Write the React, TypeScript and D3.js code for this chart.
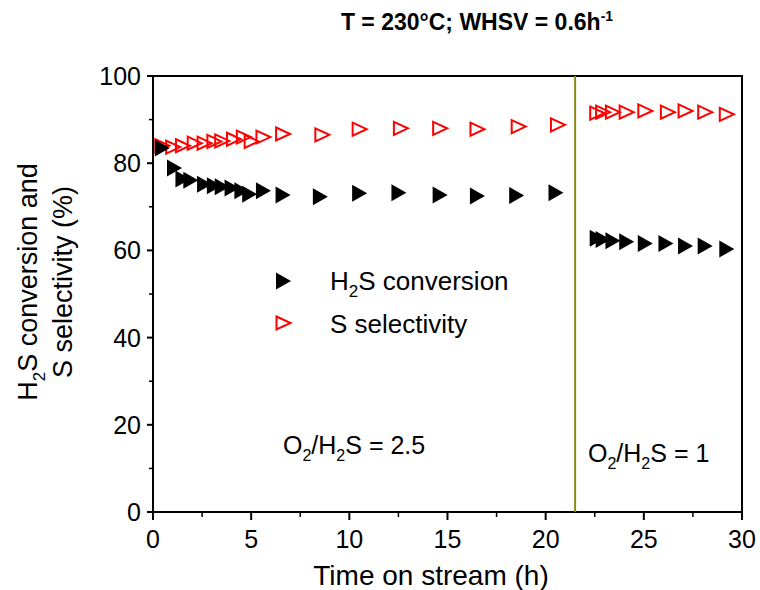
import React from "react";
import * as d3 from "d3";

// time on stream (h) and values (%)
const convTime = [0.45, 1.07, 1.5, 1.9, 2.6, 3.1, 3.5, 4.0, 4.5, 4.9, 5.6, 6.6, 8.5, 10.5, 12.5, 14.6, 16.5, 18.5, 20.5,
  22.6, 22.9, 23.4, 24.1, 25.05, 26.1, 27.1, 28.1, 29.2];
const convValue = [83.5, 78.9, 76.4, 76.1, 75.2, 74.8, 74.6, 74.3, 73.7, 72.9, 73.7, 72.7, 72.3, 73.1, 73.2, 72.7, 72.5, 72.6, 73.2,
  62.8, 62.5, 62.2, 62.0, 61.6, 61.6, 61.0, 61.0, 60.3];

const selTime = [0.45, 1.0, 1.5, 2.1, 2.6, 3.1, 3.5, 4.1, 4.6, 5.0, 5.6, 6.6, 8.6, 10.5, 12.6, 14.6, 16.5, 18.6, 20.6,
  22.6, 22.9, 23.4, 24.1, 25.05, 26.2, 27.1, 28.1, 29.2];
const selValue = [84.0, 83.7, 84.0, 84.6, 84.6, 85.0, 85.1, 85.5, 86.0, 85.0, 86.0, 86.7, 86.5, 87.8, 88.0, 88.0, 87.8, 88.4, 88.8,
  91.5, 91.7, 91.7, 91.7, 92.0, 91.7, 92.0, 91.7, 91.2];

const switchTime = 21.5;
const xTicks = [0, 5, 10, 15, 20, 25, 30];
const yTicks = [0, 20, 40, 60, 80, 100];

const W = 760, H = 590;
const margin = { top: 76, right: 18, bottom: 78, left: 153 };
const FONT = "'Liberation Sans', Arial, sans-serif";

const triFill = "M-7,-8.5L8,0L-7,8.5Z";
const triOpen = "M-6.5,-6.5L7.5,0L-6.5,6.5Z";

// O2/H2S label
function Ratio({ x, y, value }: { x: number; y: number; value: string }) {
  return (
    <text x={x} y={y} fontSize={25}>
      O<tspan dy={7} fontSize={16}>2</tspan><tspan dy={-7}>/H</tspan>
      <tspan dy={7} fontSize={16}>2</tspan><tspan dy={-7}>S = {value}</tspan>
    </text>
  );
}

export default function App() {
  const x = d3.scaleLinear().domain([0, 30]).range([margin.left, W - margin.right]);
  const y = d3.scaleLinear().domain([0, 100]).range([H - margin.bottom, margin.top]);
  const x0 = x(0), x1 = x(30), y0 = y(0), y1 = y(100);
  const xMinor = d3.range(2.5, 30, 5);
  const yMinor = d3.range(10, 100, 20);

  return (
    <svg width={W} height={H} style={{ display: "block", position: "absolute", left: 0, top: 0 }} fontFamily={FONT}>
      <rect width={W} height={H} fill="#fff" />
      <text x={477} y={30} textAnchor="middle" fontSize={23} fontWeight="bold">
        T = 230°C; WHSV = 0.6h<tspan dy={-9} fontSize={14}>-1</tspan>
      </text>

      {/* frame */}
      <path d={`M${x0},${y0}V${y1}H${x1}V${y0}Z`} fill="none" stroke="#000" strokeWidth={2} />

      {/* switch line */}
      <line x1={x(switchTime)} x2={x(switchTime)} y1={y1} y2={y0} stroke="#8a8a1a" strokeWidth={2} />

      {/* x ticks */}
      {xTicks.map(t => (
        <g key={"xt" + t}>
          <line x1={x(t)} x2={x(t)} y1={y0} y2={y0 + 8} stroke="#000" strokeWidth={2} />
          <text x={x(t)} y={y0 + 36} textAnchor="middle" fontSize={25}>{t}</text>
        </g>
      ))}
      {xMinor.map(t => (
        <line key={"xm" + t} x1={x(t)} x2={x(t)} y1={y0} y2={y0 + 5} stroke="#000" strokeWidth={1.5} />
      ))}
      {/* y ticks */}
      {yTicks.map(t => (
        <g key={"yt" + t}>
          <line x1={x0 - 6} x2={x0} y1={y(t)} y2={y(t)} stroke="#000" strokeWidth={2} />
          <text x={x0 - 12} y={y(t) + 9} textAnchor="end" fontSize={25}>{t}</text>
        </g>
      ))}
      {yMinor.map(t => (
        <line key={"ym" + t} x1={x0 - 4} x2={x0} y1={y(t)} y2={y(t)} stroke="#000" strokeWidth={1.5} />
      ))}

      <text x={431} y={y0 + 73} textAnchor="middle" fontSize={28}>Time on stream (h)</text>
      <g transform="translate(37,282) rotate(-90)">
        <text x={0} y={0} textAnchor="middle" fontSize={27}>
          H<tspan dy={8} fontSize={17}>2</tspan><tspan dy={-8}>S conversion and</tspan>
        </text>
        <text x={0} y={35} textAnchor="middle" fontSize={27}>S selectivity (%)</text>
      </g>

      {/* data */}
      {selTime.map((t, i) => (
        <path key={"s" + i} d={triOpen} transform={`translate(${x(t)},${y(selValue[i])})`}
          fill="none" stroke="#f00" strokeWidth={2} />
      ))}
      {convTime.map((t, i) => (
        <path key={"c" + i} d={triFill} transform={`translate(${x(t)},${y(convValue[i])})`} fill="#000" />
      ))}

      {/* legend */}
      <path d={triFill} transform="translate(283,281)" fill="#000" />
      <text x={330} y={290} fontSize={26}>
        H<tspan dy={7} fontSize={17}>2</tspan><tspan dy={-7}>S conversion</tspan>
      </text>
      <path d={triOpen} transform="translate(283,323)" fill="none" stroke="#f00" strokeWidth={2} />
      <text x={330} y={333} fontSize={26}>S selectivity</text>

      {/* annotations */}
      <Ratio x={283} y={454} value="2.5" />
      <Ratio x={588} y={462} value="1" />
    </svg>
  );
}
